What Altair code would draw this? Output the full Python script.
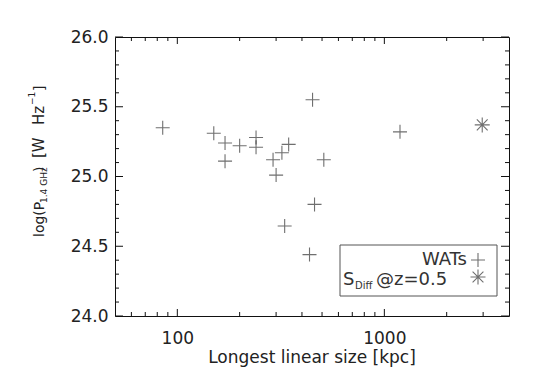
import altair as alt
import pandas as pd

# ---- data ----
wat_size = [85, 150, 170, 170, 200, 240, 240, 290, 300, 320, 345, 330, 450, 460, 435, 510, 1190]
wat_logp = [25.35, 25.31, 25.24, 25.11, 25.22, 25.28, 25.21, 25.12, 25.01, 25.17, 25.23, 24.645, 25.55, 24.80, 24.44, 25.12, 25.32]
sdiff_size = [2970]
sdiff_logp = [25.37]

x_major = [100, 1000]
x_minor = [60, 70, 80, 90, 200, 300, 400, 500, 600, 700, 800, 900, 2000, 3000]
y_major = [24.0, 24.5, 25.0, 25.5, 26.0]
y_minor = [24.1, 24.2, 24.3, 24.4, 24.6, 24.7, 24.8, 24.9, 25.1, 25.2, 25.3, 25.4,
           25.6, 25.7, 25.8, 25.9]

W, H = 394, 279
FONT = "DejaVu Sans"
INK = "#333333"
CROSS = "M-1,0L1,0M0,-1L0,1"
STAR = "M-1,0L1,0M0,-1L0,1M-0.72,-0.72L0.72,0.72M-0.72,0.72L0.72,-0.72"

xs = alt.Scale(type="log", domain=[50, 4000], nice=False)
ys = alt.Scale(domain=[24, 26], nice=False, zero=False)
axX = alt.Axis(values=x_major, ticks=False, domain=False, grid=False, format="d",
               labelFontSize=17, labelFont=FONT, labelColor="#222", labelPadding=14, title=None)
axY = alt.Axis(values=y_major, ticks=False, domain=False, grid=False, format=".1f",
               labelFontSize=17, labelFont=FONT, labelColor="#222", labelPadding=7, title=None)

wat = pd.DataFrame({"size": wat_size, "logp": wat_logp})
sdiff = pd.DataFrame({"size": sdiff_size, "logp": sdiff_logp})

base = alt.Chart(wat).mark_point(shape=CROSS, size=196, filled=False, color=INK, strokeWidth=1.1).encode(
    x=alt.X("size:Q", scale=xs, axis=axX),
    y=alt.Y("logp:Q", scale=ys, axis=axY),
)

star = alt.Chart(sdiff).mark_point(shape=STAR, size=225, filled=False, color=INK, strokeWidth=1.1).encode(
    x=alt.X("size:Q", scale=xs, axis=axX),
    y=alt.Y("logp:Q", scale=ys, axis=axY),
)


def xticks(vals, y0, y1):
    return alt.Chart(pd.DataFrame({"size": vals})).mark_rule(color="#111", strokeWidth=1).encode(
        x=alt.X("size:Q", scale=xs, axis=axX), y=alt.value(y0), y2=alt.value(y1))


def yticks(vals, x0, x1):
    return alt.Chart(pd.DataFrame({"logp": vals})).mark_rule(color="#111", strokeWidth=1).encode(
        y=alt.Y("logp:Q", scale=ys, axis=axY), x=alt.value(x0), x2=alt.value(x1))


ticks = [
    xticks(x_major, H, H - 7), xticks(x_minor, H, H - 4),
    xticks(x_major, 0, 7), xticks(x_minor, 0, 4),
    yticks(y_major, 0, 8), yticks(y_minor, 0, 4),
    yticks(y_major, W, W - 8), yticks(y_minor, W, W - 4),
]


def text(txt, x, y, size, align="left", angle=0, color="#222"):
    return alt.Chart(pd.DataFrame({"t": [txt]})).mark_text(
        font=FONT, fontSize=size, align=align, baseline="alphabetic", angle=angle, color=color
    ).encode(text="t:N", x=alt.value(x), y=alt.value(y))


# axis titles
xtitle = text("Longest linear size [kpc]", W / 2, 326, 17, align="center")
ytitle = [
    text("log(P", -71, 200, 14, angle=270),
    text("1.4 GHz", -68, 166, 9, angle=270),
    text(")", -71, 135, 14, angle=270),
    text("[W", -71, 121, 15, angle=270),
    text("Hz", -71, 88, 15, angle=270),
    text("\u22121", -80, 68, 9, angle=270),
    text("]", -71, 54, 14, angle=270),
]

# legend
box = alt.Chart(pd.DataFrame({"a": [0]})).mark_rect(fill="white", stroke="#555", strokeWidth=1).encode(
    x=alt.value(225), x2=alt.value(382), y=alt.value(208), y2=alt.value(259))
leg_cross = alt.Chart(pd.DataFrame({"a": [0]})).mark_point(
    shape=CROSS, size=196, filled=False, color=INK, strokeWidth=1.1).encode(x=alt.value(363), y=alt.value(223))
leg_star = alt.Chart(pd.DataFrame({"a": [0]})).mark_point(
    shape=STAR, size=225, filled=False, color=INK, strokeWidth=1.1).encode(x=alt.value(363), y=alt.value(240))
leg_texts = [
    text("WATs", 352, 228, 18, align="right", color="#333"),
    text("S", 228, 248, 18, color="#333"),
    text("Diff", 240, 252, 10, color="#333"),
    text("@z=0.5", 261, 248, 18, align="left", color="#333"),
]

chart = alt.layer(
    base, star, *ticks, xtitle, *ytitle, box, leg_cross, leg_star, *leg_texts
).properties(
    width=W, height=H,
    autosize=alt.AutoSizeParams(type="none"),
    padding={"left": 107, "top": 29, "right": 28, "bottom": 66},
    background="white",
).configure_view(stroke="#111", strokeWidth=1)

chart.save("out.html", embed_options={"renderer": "svg", "actions": False})
